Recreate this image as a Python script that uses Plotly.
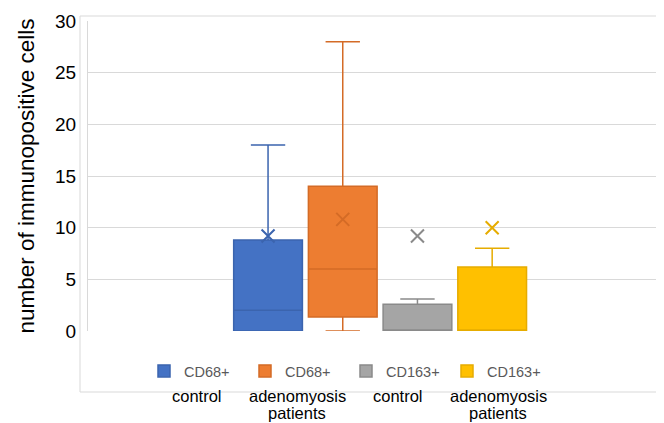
import plotly.graph_objects as go

series = ["CD68+ control", "CD68+ adenomyosis patients", "CD163+ control", "CD163+ adenomyosis patients"]
legend_top = ["CD68+", "CD68+", "CD163+", "CD163+"]
legend_bottom = [["control"], ["adenomyosis", "patients"], ["control"], ["adenomyosis", "patients"]]
q1 = [0, 1.35, 0, 0]
median = [2, 6, 0, 0]
q3 = [8.8, 14, 2.6, 6.2]
lowerfence = [0, 0, 0, 0]
upperfence = [18, 28, 3.1, 8]
mean = [9.2, 10.8, 9.2, 10]
y_ticks = [0, 5, 10, 15, 20, 25, 30]

colors = ["#4472C4", "#ED7D31", "#A5A5A5", "#FFC000"]
edge = ["#3B64AE", "#D46B26", "#8A8A8A", "#E6AC00"]

FONT = "Liberation Sans, Arial, sans-serif"
# page body has an 8px margin; lay out in screen pixels and shift
O = 8
W, H = 664 - O, 423 - O
L, T, PW, PH = 88 - O, 21 - O, 576, 310


def px_x(p):
    return (p - O - L) / PW


def px_y(p):
    return (T + PH - (p - O)) / PH


fig = go.Figure()
for i, s in enumerate(series):
    fig.add_trace(go.Box(
        x=[s], q1=[q1[i]], median=[median[i]], q3=[q3[i]],
        lowerfence=[lowerfence[i]], upperfence=[upperfence[i]],
        name=legend_top[i], fillcolor=colors[i], width=0.92,
        line=dict(color=edge[i], width=1.5), whiskerwidth=0.5,
        boxpoints=False, legendgroup=str(i), hoverinfo="skip",
    ))
for i, s in enumerate(series):
    fig.add_trace(go.Scatter(
        x=[s], y=[mean[i]], mode="markers", showlegend=False,
        marker=dict(symbol="x-thin", size=13, line=dict(color=edge[i], width=2)),
        hoverinfo="skip",
    ))

# second lines of legend labels
label_x = [197, 297, 398, 498]
line_y = [396, 413]
annotations = []
for i in range(4):
    for j, t in enumerate(legend_bottom[i]):
        annotations.append(dict(
            x=px_x(label_x[i]), y=px_y(line_y[j]), xref="paper", yref="paper",
            text=t, showarrow=False, xanchor="center", yanchor="middle",
            font=dict(family=FONT, size=16.5, color="#000000"),
        ))

fig.update_layout(
    width=W, height=H,
    margin=dict(l=L, r=W - L - PW, t=T, b=H - T - PH),
    paper_bgcolor="white", plot_bgcolor="white",
    showlegend=True,
    legend=dict(orientation="h", x=px_x(144), y=1 - (371 - O) / H, xanchor="left", yanchor="middle",
                yref="container",
                font=dict(family=FONT, size=14.5, color="#595959"),
                entrywidth=56, itemwidth=30, bgcolor="rgba(0,0,0,0)"),
    xaxis=dict(range=[-2.41, 5.30], showticklabels=False, showgrid=False, automargin=False,
               zeroline=False, showline=False, ticks=""),
    yaxis=dict(range=[0, 30], tickvals=y_ticks, showgrid=True, gridcolor="#D9D9D9",
               gridwidth=1, zeroline=False, showline=True, linecolor="#D9D9D9",
               automargin=False, ticklabelstandoff=7,
               tickfont=dict(family=FONT, size=19, color="#000000"),
               title=dict(text="number of immunopositive cells",
                          font=dict(family=FONT, size=22.5, color="#000000"), standoff=14)),
    annotations=annotations,
    shapes=[dict(type="rect", xref="paper", yref="paper",
                 x0=px_x(80), x1=px_x(670), y0=px_y(392), y1=px_y(16),
                 line=dict(color="#D9D9D9", width=1), layer="below")],
)

fig.write_html("out.html")
